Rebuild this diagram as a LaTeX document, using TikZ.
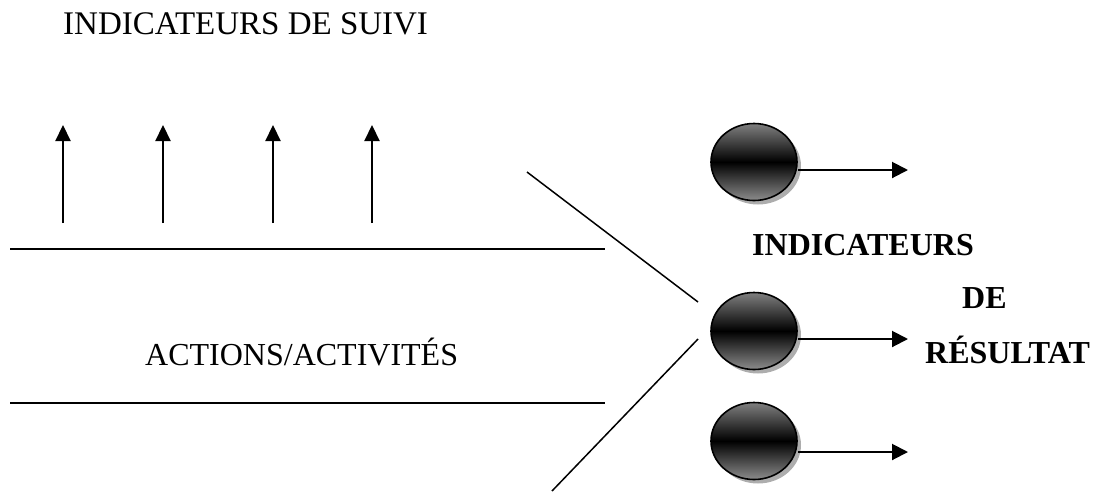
\documentclass[tikz,border=0pt]{standalone}
\usepackage{fontspec}
\setmainfont{Liberation Serif}
\usetikzlibrary{arrows.meta,shapes.geometric,shadows}

\tikzset{
  label text/.style={inner sep=0pt, anchor=base west, font=\fontsize{32}{38}\selectfont},
  bold text/.style={label text, font=\fontsize{32}{38}\selectfont\bfseries},
  ball/.style={ellipse, draw=black, line width=1.6pt, minimum width=86pt, minimum height=77pt,
    top color=black!50, bottom color=black!45, middle color=black,
    drop shadow={shadow xshift=4pt, shadow yshift=-4pt, fill=black!40, opacity=0.8}},
  uparrow/.style={line width=2.2pt, -{Triangle[length=16pt,width=15pt]}},
  outarrow/.style={line width=2pt, -{Triangle[length=16pt,width=16pt]}},
  rule/.style={line width=1.8pt},
  slant/.style={line width=1.5pt}
}

\begin{document}
\begin{tikzpicture}[x=1pt,y=-1pt]
  \useasboundingbox (0,0) rectangle (1103,491);

  % titles
  \node[label text, font=\fontsize{33}{39}\selectfont] (suivi) at (63,34) {INDICATEURS DE SUIVI};
  \node[label text] (actions) at (145,365) {ACTIONS/ACTIVITÉS};
  \node[bold text] (ind) at (752,255) {INDICATEURS};
  \node[bold text] (de) at (962,308) {DE};
  \node[bold text] (res) at (925,363) {RÉSULTAT};

  % monitoring arrows
  \foreach \i/\x in {1/63,2/163,3/273,4/372}{
    \coordinate (b\i) at (\x,223);
    \coordinate (t\i) at (\x,125);
    \draw[uparrow] (b\i) -- (t\i);
  }

  % band of actions
  \coordinate (r1a) at (10,249);  \coordinate (r1b) at (605,249);
  \coordinate (r2a) at (10,403);  \coordinate (r2b) at (605,403);
  \draw[rule] (r1a) -- (r1b);
  \draw[rule] (r2a) -- (r2b);

  % converging lines
  \coordinate (s1a) at (527,172); \coordinate (s1b) at (698,302);
  \coordinate (s2a) at (698,339); \coordinate (s2b) at (552,491);
  \draw[slant] (s1a) -- (s1b);
  \draw[slant] (s2a) -- (s2b);

  % result indicators
  \node[ball] (c1) at (754,162) {};
  \node[ball] (c2) at (754,331) {};
  \node[ball] (c3) at (754,441) {};
  \coordinate (e1) at (908,170);
  \coordinate (e2) at (908,339);
  \coordinate (e3) at (908,452);
  \foreach \i in {1,2,3}{
    \draw[outarrow] (c\i.east |- e\i) -- (e\i);
  }
\end{tikzpicture}
\end{document}
